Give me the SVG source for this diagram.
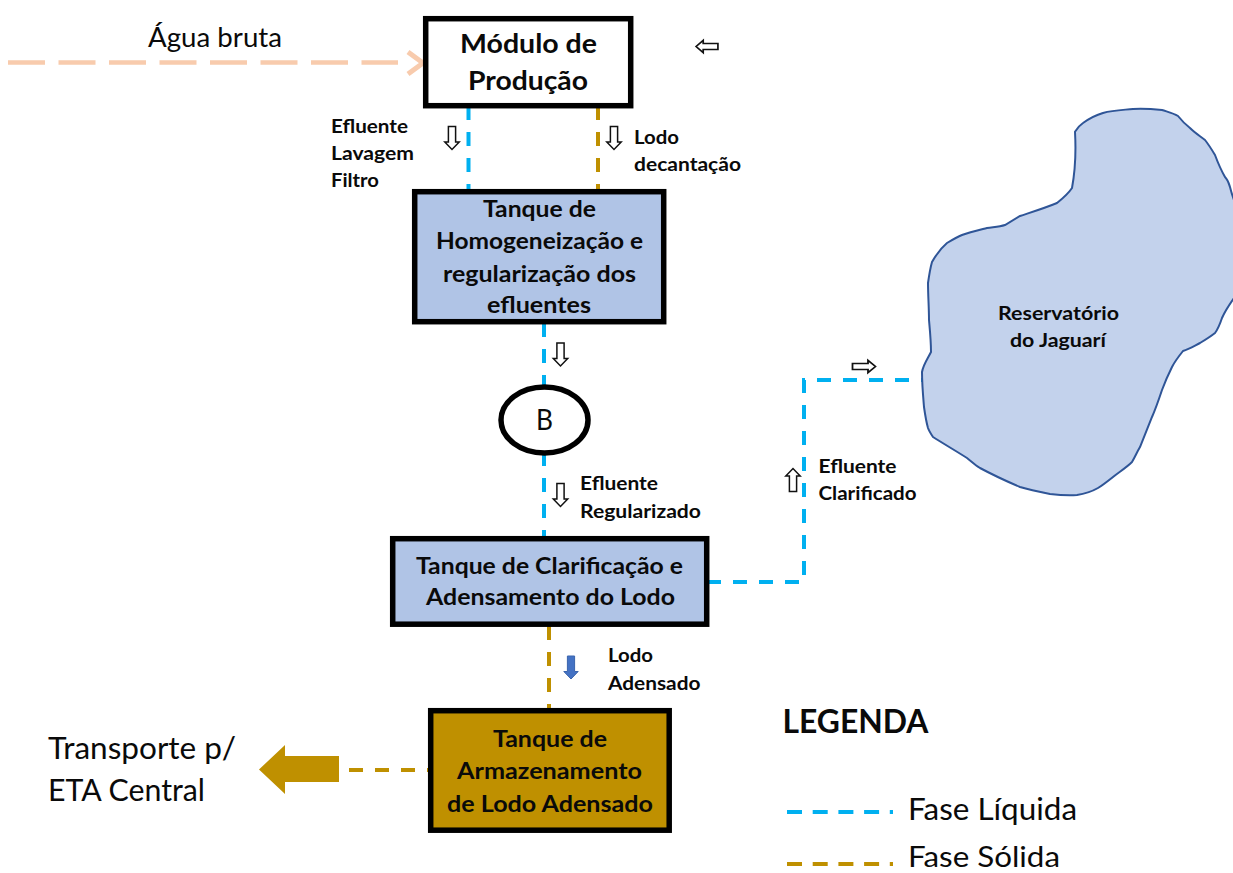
<svg xmlns="http://www.w3.org/2000/svg" width="1233" height="873" viewBox="0 0 1233 873">
<style>
text{font-family:"Lato","Carlito","Open Sans","Liberation Sans",sans-serif;fill:#0a0a0a}
.b{font-weight:700}
.t23{font-size:23.5px}
.t18{font-size:18.5px}
.t26{font-size:26px}
.t30{font-size:30px}
.box{stroke:#000;stroke-width:5.5}
.blue{fill:#b0c4e6}
.liq,.sol,.raw{fill:none;stroke-width:4;stroke-dasharray:14 12}
.liq{stroke:#00b0f0}
.sol{stroke:#bf9000}
.raw{stroke:#f8cbad;stroke-width:4.5;stroke-dasharray:37 13.5}
.arr{fill:#fff;stroke:#111;stroke-width:1.5}
.arr2{fill:#fff;stroke:#111;stroke-width:1.8}
</style>
<defs>
<path id="dn" d="M-3.6-11.5H3.6V4H7.2L0 11.5-7.200 4H-3.600Z"/>
</defs>

<g id="connectors">
<path class="raw" d="M8 62.5H398"/>
<path d="M408 52L423 63 408 74" fill="none" stroke="#f8cbad" stroke-width="5"/>
<path class="liq" d="M468.500 106V190"/>
<path class="sol" d="M598 106V190"/>
<path class="liq" d="M544 323V387"/>
<path class="liq" d="M544 452V537"/>
<path class="liq" d="M707 582H804V380H923"/>
<path class="sol" d="M549 626V710"/>
<path class="sol" d="M349 770H430"/>
<path d="M259 769.500L285 745V756H339V782H285V794Z" fill="#bf9000"/>
</g>

<g id="direction-arrows">
<use href="#dn" class="arr" transform="translate(452 138)"/>
<use href="#dn" class="arr" transform="translate(614 138)"/>
<use href="#dn" class="arr2" transform="translate(707 46.500) rotate(90) scale(.85 .95)"/>
<use href="#dn" class="arr" transform="translate(560.500 354.500)"/>
<use href="#dn" class="arr" transform="translate(560.500 495)"/>
<use href="#dn" class="arr2" transform="translate(864 366.500) rotate(-90) scale(.85 1)"/>
<use href="#dn" class="arr" transform="translate(793 480) rotate(180)"/>
<use href="#dn" transform="translate(571 667.500)" fill="#4472c4" stroke="#3a64ad" stroke-width="1"/>
</g>

<g id="agua-bruta">
<text x="148" y="46.500" class="t26" textLength="134" lengthAdjust="spacingAndGlyphs">Água bruta</text>
</g>

<g id="modulo-producao">
<rect class="box" x="425.700" y="18.700" width="205" height="87" fill="#fff"/>
<text x="460" y="53" class="b t26" textLength="137" lengthAdjust="spacingAndGlyphs">Módulo de</text>
<text x="468" y="90" class="b t26" textLength="120" lengthAdjust="spacingAndGlyphs">Produção</text>
</g>

<g id="label-efluente-lavagem">
<text x="331" y="132.500" class="b t18" textLength="77" lengthAdjust="spacingAndGlyphs">Efluente</text>
<text x="331" y="160" class="b t18" textLength="83" lengthAdjust="spacingAndGlyphs">Lavagem</text>
<text x="331" y="187" class="b t18" textLength="48" lengthAdjust="spacingAndGlyphs">Filtro</text>
</g>

<g id="label-lodo-decantacao">
<text x="634" y="143.500" class="b t18" textLength="45" lengthAdjust="spacingAndGlyphs">Lodo</text>
<text x="634" y="170.500" class="b t18" textLength="107" lengthAdjust="spacingAndGlyphs">decantação</text>
</g>

<g id="tanque-homogeneizacao">
<rect class="box blue" x="414.700" y="191.700" width="249" height="130"/>
<text x="483" y="217" class="b t23" textLength="113" lengthAdjust="spacingAndGlyphs">Tanque de</text>
<text x="436" y="249" class="b t23" textLength="207" lengthAdjust="spacingAndGlyphs">Homogeneização e</text>
<text x="443" y="281.500" class="b t23" textLength="193" lengthAdjust="spacingAndGlyphs">regularização dos</text>
<text x="487" y="313" class="b t23" textLength="104" lengthAdjust="spacingAndGlyphs">efluentes</text>
</g>

<g id="bomba">
<ellipse cx="544.500" cy="420" rx="43.500" ry="33" fill="#fff" stroke="#000" stroke-width="5.500"/>
<text x="536" y="430" font-size="28" textLength="17" lengthAdjust="spacingAndGlyphs">B</text>
</g>

<g id="label-efluente-regularizado">
<text x="580" y="490" class="b t18" textLength="78" lengthAdjust="spacingAndGlyphs">Efluente</text>
<text x="580" y="517.500" class="b t18" textLength="121" lengthAdjust="spacingAndGlyphs">Regularizado</text>
</g>

<g id="label-efluente-clarificado">
<text x="818.500" y="472.500" class="b t18" textLength="78" lengthAdjust="spacingAndGlyphs">Efluente</text>
<text x="818.500" y="500" class="b t18" textLength="98" lengthAdjust="spacingAndGlyphs">Clarificado</text>
</g>

<g id="reservatorio">
<path d="M1075 131.700C1078 127 1080 125 1083 123C1090 118 1096 115 1103 113C1113 110 1123 110 1133 109C1143 108.500 1152 109 1162 110C1168 112 1173 113 1178 116C1182 121 1186 125 1190 128C1195 133 1200 136 1205 140C1209 145 1212 150 1215 155C1218 163 1221 170 1225 177C1228 180 1229 184 1230 187C1231 191 1232 195 1234 200V298C1229 305 1225 311 1222 318C1220 324 1218 329 1215 333C1210 337 1205 340 1200 343C1194 346 1189 349 1183 351C1179 356 1175 361 1172 367C1168 375 1165 382 1162 390C1159 399 1156 408 1152 417C1148 427 1144 437 1140 447C1137 452 1135 457 1132 462C1126 468 1119 472 1113 477C1108 481 1103 485 1098 488C1091 492 1084 494 1077 495C1068 495.500 1059 495 1050 494C1040 492 1030 490 1020 487C1006 481 993 475 980 468C975 465 971 461 967 458C956 451 944 444 933 437C931 434 929 431 928 428C926 421 925 414 924 407C923 395 922 384 922 372C923 365 928 358 931 352C931 341 930 331 929 320C929 308 928 295 928 283C929 276 930 269 932 262C936 255 941 248 947 243C952 240 957 237 962 235C970 232 979 230 987 228C993 227 999 227 1005 225C1010 222 1015 219 1020 216C1032 212 1045 208 1057 203C1062 199 1068 194 1072 188C1075 172 1076 150 1075 131.700Z" fill="#c3d2ec" stroke="#2f5597" stroke-width="2"/>
<text x="998" y="320" class="b t18" textLength="121" lengthAdjust="spacingAndGlyphs">Reservatório</text>
<text x="1010" y="347" class="b t18" textLength="96" lengthAdjust="spacingAndGlyphs">do Jaguarí</text>
</g>

<g id="tanque-clarificacao">
<rect class="box blue" x="392.700" y="538.700" width="314" height="85.500"/>
<text x="416" y="574" class="b t23" textLength="267" lengthAdjust="spacingAndGlyphs">Tanque de Clarificação  e</text>
<text x="426" y="605" class="b t23" textLength="249" lengthAdjust="spacingAndGlyphs">Adensamento do Lodo</text>
</g>

<g id="label-lodo-adensado">
<text x="608" y="662" class="b t18" textLength="45" lengthAdjust="spacingAndGlyphs">Lodo</text>
<text x="608" y="690" class="b t18" textLength="92.500" lengthAdjust="spacingAndGlyphs">Adensado</text>
</g>

<g id="tanque-armazenamento">
<rect class="box" x="430.700" y="710.700" width="238.500" height="119.500" fill="#bf9000"/>
<text x="493" y="747" class="b t23" textLength="114" lengthAdjust="spacingAndGlyphs">Tanque de</text>
<text x="457" y="779" class="b t23" textLength="185" lengthAdjust="spacingAndGlyphs">Armazenamento</text>
<text x="447" y="811.500" class="b t23" textLength="206" lengthAdjust="spacingAndGlyphs">de Lodo Adensado</text>
</g>

<g id="transporte">
<text x="48" y="759" class="t30" textLength="188" lengthAdjust="spacingAndGlyphs">Transporte p/</text>
<text x="48" y="801" class="t30" textLength="157" lengthAdjust="spacingAndGlyphs">ETA Central</text>
</g>

<g id="legenda">
<text x="782.500" y="733" font-size="32" class="b" textLength="146" lengthAdjust="spacingAndGlyphs">LEGENDA</text>
<path class="liq" style="stroke-dasharray:15 10.700" d="M787 812H893"/>
<path class="sol" style="stroke-dasharray:15 10.700" d="M787 864H893"/>
<text x="908" y="820" class="t30" textLength="169" lengthAdjust="spacingAndGlyphs">Fase Líquida</text>
<text x="908" y="866.500" font-size="28" textLength="152" lengthAdjust="spacingAndGlyphs">Fase Sólida</text>
</g>
</svg>
